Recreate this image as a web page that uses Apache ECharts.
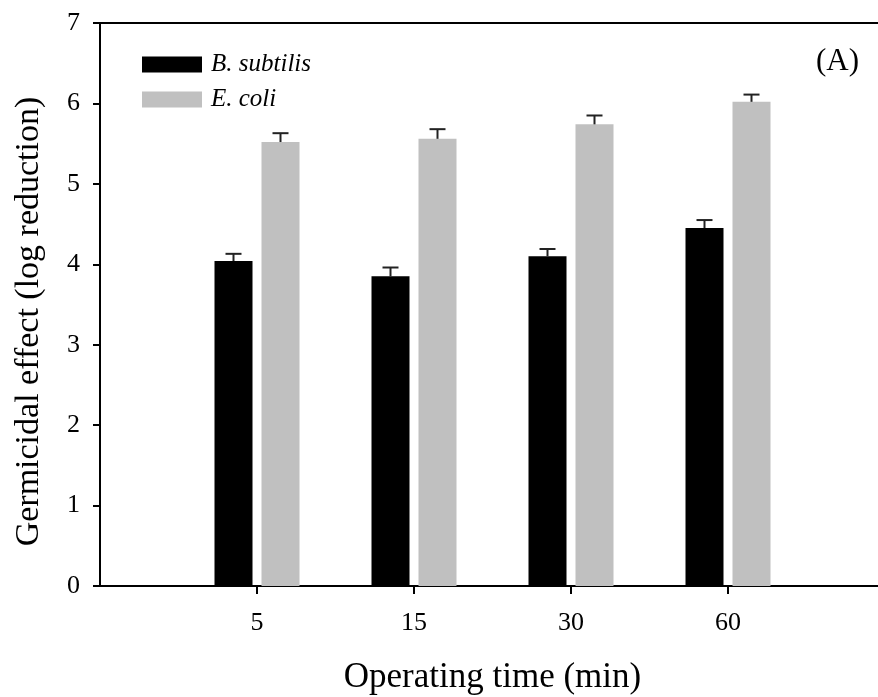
<!DOCTYPE html>
<html>
<head>
<meta charset="utf-8">
<script src="https://cdn.jsdelivr.net/npm/echarts@6/dist/echarts.min.js"></script>
<style>
  html, body { margin: 0; padding: 0; background: #fff; }
  #chart { width: 878px; height: 697px; }
</style>
</head>
<body>
<div id="chart"></div>
<script>
// data
var times = ['5', '15', '30', '60'];
var bSubtilis = [4.04, 3.85, 4.10, 4.45];
var bSubtilisErr = [0.09, 0.11, 0.09, 0.10];
var eColi = [5.52, 5.56, 5.74, 6.02];
var eColiErr = [0.11, 0.12, 0.11, 0.09];
var yTicks = [0, 1, 2, 3, 4, 5, 6, 7];

var font = '"Liberation Serif", "Times New Roman", serif';
var barW = 38;
var gapPx = 9;
var shift = (barW + gapPx) / 2;

function pts(vals) {
  return vals.map(function (v, i) { return [i + 1, v]; });
}
function errPts(vals, errs) {
  return vals.map(function (v, i) { return [i + 1, v, v + errs[i]]; });
}
function errBar(dx) {
  return function (params, api) {
    var lo = api.coord([api.value(0), api.value(1)]);
    var hi = api.coord([api.value(0), api.value(2)]);
    var x = lo[0] + dx;
    var st = { stroke: '#222', lineWidth: 2 };
    return {
      type: 'group',
      children: [
        { type: 'line', shape: { x1: x, y1: lo[1], x2: x, y2: hi[1] }, style: st },
        { type: 'line', shape: { x1: x - 8, y1: hi[1], x2: x + 8, y2: hi[1] }, style: st }
      ]
    };
  };
}

var myChart = echarts.init(document.getElementById('chart'));
myChart.setOption({
  animation: false,
  backgroundColor: '#fff',
  textStyle: { fontFamily: font, color: '#000' },
  grid: { left: 100, right: -7, top: 23, bottom: 111, outerBoundsMode: 'none', containLabel: false },
  legend: {
    left: 137,
    top: 47,
    orient: 'vertical',
    icon: 'rect',
    itemWidth: 60,
    itemHeight: 16,
    itemGap: 10,
    textStyle: { fontFamily: font, fontSize: 25, fontStyle: 'italic', color: '#000', padding: [0, 0, 0, 4] },
    data: ['B. subtilis', 'E. coli']
  },
  graphic: [{
    type: 'text',
    left: 816,
    top: 46,
    style: { text: '(A)', font: '31px ' + font, fill: '#000' }
  }],
  xAxis: [{
    type: 'value',
    min: 0,
    max: 5,
    splitLine: { show: false },
    axisLine: { lineStyle: { color: '#000', width: 2 } },
    axisTick: { customValues: [1, 2, 3, 4], length: 8, lineStyle: { color: '#000', width: 2 } },
    axisLabel: {
      customValues: [1, 2, 3, 4],
      formatter: function (v) { return times[v - 1]; },
      fontSize: 26, color: '#000', margin: 24, fontFamily: font
    },
    name: 'Operating time (min)',
    nameLocation: 'middle',
    nameGap: 74,
    nameTextStyle: { fontSize: 35, color: '#000', fontFamily: font }
  }, {
    type: 'value',
    position: 'top',
    min: 0,
    max: 5,
    splitLine: { show: false },
    axisLine: { show: true, lineStyle: { color: '#000', width: 2 } },
    axisTick: { show: false },
    axisLabel: { show: false }
  }],
  yAxis: {
    type: 'value',
    min: 0,
    max: 7,
    interval: 1,
    splitLine: { show: false },
    axisLine: { show: true, lineStyle: { color: '#000', width: 2 } },
    axisTick: { show: true, length: 7, lineStyle: { color: '#000', width: 2 } },
    axisLabel: {
      fontSize: 26, color: '#000', margin: 20, fontFamily: font,
      formatter: function (v) { return yTicks.indexOf(v) >= 0 ? String(v) : ''; }
    },
    name: 'Germicidal effect (log reduction)',
    nameLocation: 'middle',
    nameGap: 54,
    nameTextStyle: { fontSize: 34, color: '#000', fontFamily: font, padding: [0, 34, 0, 0] }
  },
  series: [{
    name: 'B. subtilis',
    type: 'bar',
    barWidth: barW,
    barGap: (gapPx / barW * 100) + '%',
    itemStyle: { color: '#000' },
    data: pts(bSubtilis)
  }, {
    name: 'E. coli',
    type: 'bar',
    barWidth: barW,
    barGap: (gapPx / barW * 100) + '%',
    itemStyle: { color: '#c0c0c0' },
    data: pts(eColi)
  }, {
    type: 'custom',
    renderItem: errBar(-shift),
    encode: { x: 0, y: [1, 2] },
    z: 5,
    data: errPts(bSubtilis, bSubtilisErr)
  }, {
    type: 'custom',
    renderItem: errBar(shift),
    encode: { x: 0, y: [1, 2] },
    z: 5,
    data: errPts(eColi, eColiErr)
  }]
});
</script>
</body>
</html>
